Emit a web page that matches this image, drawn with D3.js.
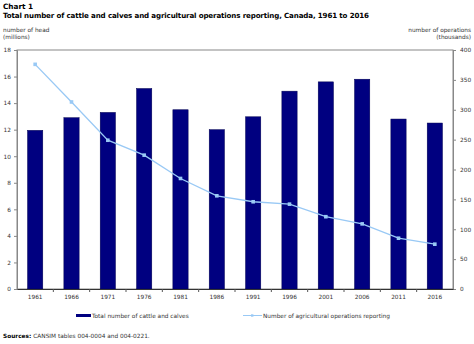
<!DOCTYPE html>
<html><head><meta charset="utf-8">
<script src="https://cdn.jsdelivr.net/npm/d3@7"></script>
<style>body{margin:0;background:#fff}svg{display:block}text{font-family:"DejaVu Sans",Verdana,sans-serif}</style>
</head><body>
<svg id="c" width="474" height="344"></svg>
<script>
const years = ["1961","1966","1971","1976","1981","1986","1991","1996","2001","2006","2011","2016"];
const cattle = [11.95, 12.9, 13.3, 15.1, 13.5, 12.0, 12.97, 14.9, 15.6, 15.8, 12.8, 12.5];
const operations = [376, 313, 249, 224, 185, 156, 146, 142, 121, 109, 85, 75];
const leftTicks = [0,2,4,6,8,10,12,14,16,18];
const rightTicks = [0,50,100,150,200,250,300,350,400];

const svg = d3.select("#c");
const L=17, R=453, T=50, B=289;
const x = d3.scaleBand().domain(years).range([L,R]).paddingInner(0.58).paddingOuter(0.29);
const yL = d3.scaleLinear().domain([0,18]).range([B,T]);
const yR = d3.scaleLinear().domain([0,400]).range([B,T]);
const barColor="#000080", lineColor="#99c9f5";
const fs = 5.8;

svg.append("text").attr("x",3).attr("y",9).attr("font-size",7.3).attr("font-weight","bold").text("Chart 1");
svg.append("text").attr("x",3).attr("y",18).attr("font-size",7.1).attr("font-weight","bold")
  .attr("textLength",366).attr("lengthAdjust","spacing")
  .text("Total number of cattle and calves and agricultural operations reporting, Canada, 1961 to 2016");
svg.append("text").attr("x",3).attr("y",32).attr("font-size",fs).attr("fill","#333").text("number of head");
svg.append("text").attr("x",3).attr("y",39).attr("font-size",fs).attr("fill","#333").text("(millions)");
svg.append("text").attr("x",471).attr("y",32).attr("font-size",fs).attr("fill","#333").attr("text-anchor","end").text("number of operations");
svg.append("text").attr("x",471).attr("y",39).attr("font-size",fs).attr("fill","#333").attr("text-anchor","end").text("(thousands)");

// frame
svg.append("rect").attr("x",L).attr("y",T).attr("width",R-L).attr("height",B-T).attr("fill","none").attr("stroke","#888").attr("stroke-width",1);

// bars
svg.append("g").selectAll("rect").data(years).join("rect")
  .attr("x",d=>x(d)).attr("width",x.bandwidth())
  .attr("y",(d,i)=>yL(cattle[i])).attr("height",(d,i)=>B-yL(cattle[i]))
  .attr("fill",barColor).attr("stroke","#000050").attr("stroke-width",0.5);

// line
const line = d3.line().x((d,i)=>x(years[i])+x.bandwidth()/2).y(d=>yR(d));
svg.append("path").datum(operations).attr("d",line).attr("fill","none").attr("stroke",lineColor).attr("stroke-width",1.3);
svg.append("g").selectAll("rect").data(operations).join("rect")
  .attr("x",(d,i)=>x(years[i])+x.bandwidth()/2-1.8).attr("y",d=>yR(d)-1.8)
  .attr("width",3.6).attr("height",3.6).attr("fill",lineColor);

// axes
const axL = svg.append("g").attr("transform",`translate(${L},0)`).call(d3.axisLeft(yL).tickValues(leftTicks).tickSize(3).tickPadding(3));
const axR = svg.append("g").attr("transform",`translate(${R},0)`).call(d3.axisRight(yR).tickValues(rightTicks).tickSize(3).tickPadding(4));
[axL,axR].forEach(a=>{a.select(".domain").attr("stroke","#888");a.selectAll("line").attr("stroke","#888");a.selectAll("text").attr("font-size",fs).attr("fill","#333").attr("font-family","DejaVu Sans, Verdana, sans-serif");});

// x axis
const axB = svg.append("g").attr("transform",`translate(0,${B})`).call(d3.axisBottom(x).tickSize(0).tickPadding(6));
axB.select(".domain").attr("stroke","#333");
axB.selectAll("text").attr("font-size",fs).attr("fill","#333").attr("font-family","DejaVu Sans, Verdana, sans-serif");
const step = x.step();
svg.append("g").selectAll("line").data(years.slice(1)).join("line")
  .attr("x1",d=>x(d)+x.bandwidth()/2-step/2).attr("x2",d=>x(d)+x.bandwidth()/2-step/2)
  .attr("y1",B).attr("y2",B+3).attr("stroke","#555");

// legend
svg.append("rect").attr("x",76).attr("y",314).attr("width",15).attr("height",3).attr("fill",barColor);
svg.append("text").attr("x",92).attr("y",317.5).attr("font-size",fs).attr("fill","#333").text("Total number of cattle and calves");
svg.append("line").attr("x1",243).attr("x2",262).attr("y1",315.5).attr("y2",315.5).attr("stroke",lineColor).attr("stroke-width",1);
svg.append("rect").attr("x",251).attr("y",314.3).attr("width",2.4).attr("height",2.4).attr("fill",lineColor);
svg.append("text").attr("x",263).attr("y",317.5).attr("font-size",fs).attr("fill","#333").text("Number of agricultural operations reporting");

// sources
const s = svg.append("text").attr("x",3).attr("y",338).attr("font-size",fs).attr("fill","#333");
s.append("tspan").attr("font-weight","bold").attr("fill","#000").text("Sources: ");
s.append("tspan").text("CANSIM tables 004-0004 and 004-0221.");
</script>
</body></html>
